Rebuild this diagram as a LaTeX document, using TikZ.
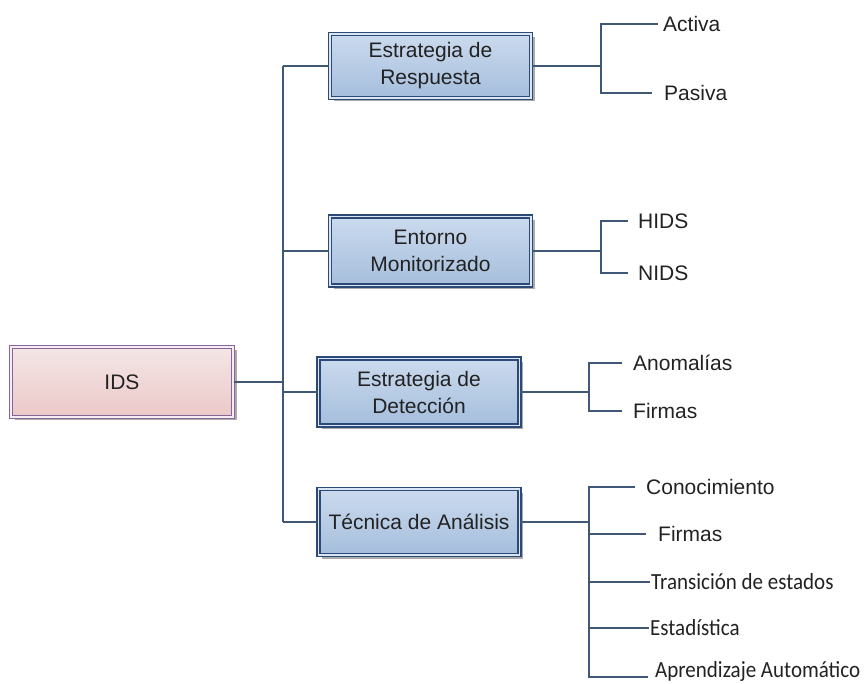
\documentclass[tikz,border=0pt]{standalone}
\usepackage{fontspec}
\setmainfont{Liberation Sans}
\newfontfamily\carlito{Carlito}
\usepackage{graphicx}
\usetikzlibrary{shadows}

\definecolor{linkc}{HTML}{3F5878}
\definecolor{boxedge}{HTML}{2C4A78}
\definecolor{boxgap}{HTML}{DCE6F3}
\definecolor{blueTop}{HTML}{CBDAEE}
\definecolor{blueBot}{HTML}{A5BEDC}
\definecolor{rootedge}{HTML}{85669A}
\definecolor{rootgap}{HTML}{F7ECF2}
\definecolor{pinkTop}{HTML}{F4E6E6}
\definecolor{pinkBot}{HTML}{ECC8C8}
\definecolor{txt}{HTML}{222222}

\newcommand\tall[1]{\scalebox{1}[1.1]{#1}}

\begin{document}
\begin{tikzpicture}[x=1pt,y=-1pt,
  link/.style={draw=linkc,line width=1.4pt},
  catbox/.style={draw=boxedge, double=boxgap, double distance=1.8pt,
    line width=1.2pt, top color=blueTop, bottom color=blueBot,
    minimum width=201pt, inner sep=0pt, align=center, text=txt,
    font=\fontsize{21}{27}\selectfont,
    drop shadow={shadow xshift=3.5pt, shadow yshift=-3.5pt, fill=black!55, opacity=.6}},
  rootbox/.style={catbox, draw=rootedge, double=rootgap,
    top color=pinkTop, bottom color=pinkBot, minimum width=222pt, minimum height=70pt},
  leaf/.style={anchor=west, inner sep=0pt, text height=15pt, text depth=0pt,
    font=\fontsize{21}{25}\selectfont, text=txt},
  cleaf/.style={leaf, font=\carlito\fontsize{21}{25}\selectfont, text height=14.8pt}]

\useasboundingbox (0,0) rectangle (865,684);

% root and category boxes
\node[rootbox] (ids) at (122,382) {IDS};
\node[catbox, minimum height=64pt] (resp) at (430.5,66) {Estrategia de\\Respuesta};
\node[catbox, minimum height=69pt] (ent)  at (430.5,251) {Entorno\\Monitorizado};
\node[catbox, minimum height=67pt] (det)  at (419,392) {Estrategia de\\Detección};
\node[catbox, minimum height=66pt] (tec)  at (419,522) {Técnica de Análisis};

% trunk
\coordinate (t) at (283,382);
\draw[link] (ids.east) -- (t);
\draw[link] (t |- resp.west) -- (t |- tec.west);
\foreach \n in {resp,ent,det,tec}
  \draw[link] (t |- \n.west) -- (\n.west);

% leaves
\node[leaf] (activa) at (663,24) {Activa};
\node[leaf] (pasiva) at (664,93) {Pasiva};
\node[leaf] (hids) at (638,221) {HIDS};
\node[leaf] (nids) at (638,273) {NIDS};
\node[leaf] (anom) at (633,363) {Anomalías};
\node[leaf] (firm) at (633,411) {Firmas};
\node[leaf] (k1) at (646,487) {Conocimiento};
\node[leaf] (k2) at (658,534) {Firmas};
\node[cleaf] (k3) at (651,582) {\tall{Transición de estados}};
\node[cleaf] (k4) at (650,628) {\tall{Estadística}};
\node[cleaf] (k5) at (655,670) {\tall{Aprendizaje Automático}};

% brackets
\coordinate (rb) at (601,66);
\draw[link] (resp.east) -- (rb);
\draw[link] ([xshift=-5pt]activa.west) -| (rb) |- ([xshift=-12pt]pasiva.west);

\coordinate (eb) at (601,251);
\draw[link] (ent.east) -- (eb);
\draw[link] ([xshift=-10pt]hids.west) -| (eb) |- ([xshift=-10pt]nids.west);

\coordinate (db) at (589,392);
\draw[link] (det.east) -- (db);
\draw[link] ([xshift=-11pt]anom.west) -| (db) |- ([xshift=-11pt]firm.west);

\coordinate (tb) at (589,522);
\coordinate (k5e) at ([xshift=-7pt,yshift=-7pt]k5.west);
\draw[link] (tec.east) -- (tb);
\draw[link] ([xshift=-11pt]k1.west) -| (tb |- k5e) -- (k5e);
\draw[link] (tb |- k2.west) -- ([xshift=-12pt]k2.west);
\draw[link] (tb |- k3.west) -- ([xshift=-1pt]k3.west);
\draw[link] (tb |- k4.west) -- ([xshift=-1pt]k4.west);
\end{tikzpicture}
\end{document}
